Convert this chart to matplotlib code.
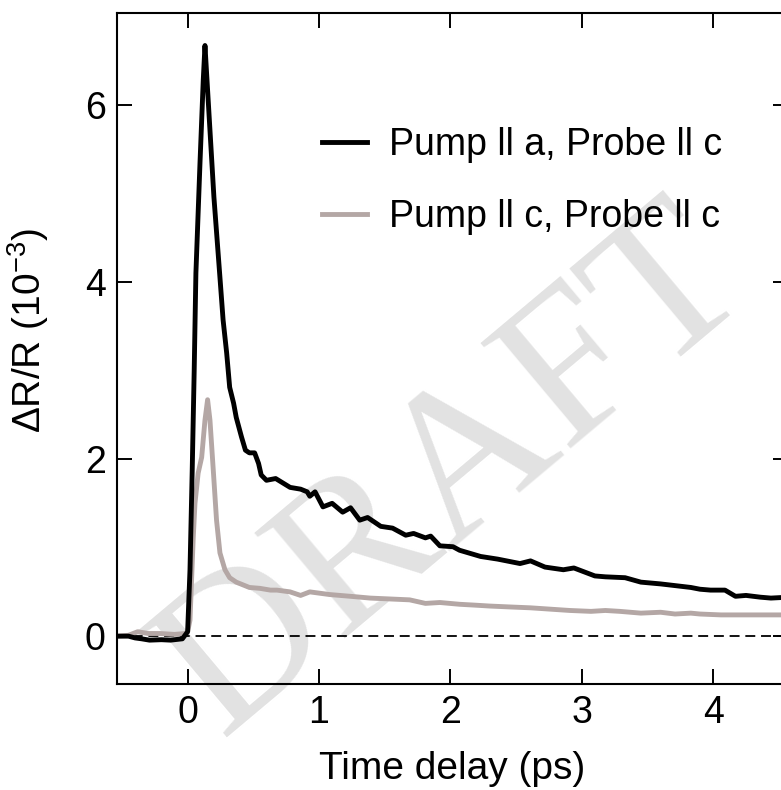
import matplotlib
matplotlib.use("Agg")
import matplotlib.pyplot as plt

# ---- data ----
x_a = [-0.54, -0.45, -0.40, -0.35, -0.29, -0.20, -0.13, -0.04, 0.00, 0.018, 0.035, 0.05,
       0.063, 0.094, 0.119, 0.132, 0.155, 0.20, 0.246, 0.27, 0.297, 0.32, 0.35, 0.37,
       0.41, 0.44, 0.47, 0.51, 0.54, 0.56, 0.60, 0.67, 0.78, 0.86, 0.91, 0.93, 0.97,
       1.03, 1.10, 1.18, 1.24, 1.31, 1.37, 1.47, 1.56, 1.66, 1.72, 1.81, 1.85, 1.92,
       2.02, 2.07, 2.23, 2.36, 2.53, 2.61, 2.72, 2.86, 2.94, 3.10, 3.18, 3.33, 3.45,
       3.60, 3.83, 3.90, 3.98, 4.09, 4.17, 4.25, 4.36, 4.44, 4.57]
y_a = [0.00, 0.00, -0.02, -0.03, -0.045, -0.04, -0.045, -0.03, 0.05, 0.75, 1.88, 3.0,
       4.10, 5.34, 6.28, 6.67, 6.09, 4.96, 4.05, 3.57, 3.20, 2.81, 2.63, 2.47,
       2.25, 2.10, 2.07, 2.07, 1.95, 1.82, 1.76, 1.78, 1.68, 1.66, 1.63, 1.58, 1.63,
       1.46, 1.50, 1.40, 1.45, 1.31, 1.34, 1.24, 1.22, 1.14, 1.16, 1.11, 1.13, 1.02,
       1.01, 0.97, 0.90, 0.87, 0.82, 0.85, 0.78, 0.75, 0.77, 0.68, 0.67, 0.66, 0.61,
       0.59, 0.55, 0.53, 0.52, 0.52, 0.45, 0.46, 0.44, 0.43, 0.44]

x_c = [-0.54, -0.45, -0.38, -0.30, -0.21, -0.10, -0.02, 0.00, 0.018, 0.043, 0.056, 0.08,
       0.107, 0.132, 0.152, 0.17, 0.195, 0.22, 0.246, 0.284, 0.32, 0.37, 0.47, 0.55,
       0.63, 0.68, 0.78, 0.86, 0.93, 1.08, 1.24, 1.39, 1.54, 1.69, 1.81, 1.92, 2.07,
       2.19, 2.30, 2.45, 2.61, 2.76, 2.91, 3.07, 3.18, 3.29, 3.45, 3.60, 3.71, 3.83,
       3.90, 4.06, 4.21, 4.36, 4.57]
y_c = [0.00, 0.01, 0.05, 0.03, 0.03, 0.02, 0.03, 0.05, 0.18, 1.12, 1.50, 1.84,
       2.02, 2.44, 2.67, 2.44, 1.88, 1.31, 0.94, 0.75, 0.66, 0.61, 0.55, 0.54,
       0.52, 0.52, 0.50, 0.46, 0.50, 0.47, 0.45, 0.43, 0.42, 0.41, 0.37, 0.38, 0.36,
       0.35, 0.34, 0.33, 0.32, 0.305, 0.29, 0.28, 0.29, 0.28, 0.26, 0.27, 0.25, 0.26,
       0.25, 0.24, 0.24, 0.24, 0.24]

label_a = "Pump ll a, Probe ll c"
label_c = "Pump ll c, Probe ll c"
x_ticks = [0, 1, 2, 3, 4]
y_ticks = [0, 2, 4, 6]

plt.rcParams['font.family'] = ['Liberation Sans', 'DejaVu Sans']
plt.rcParams['mathtext.fontset'] = 'custom'
plt.rcParams['mathtext.rm'] = 'Liberation Sans'

fig = plt.figure(figsize=(7.81, 7.90), dpi=100)
ax = fig.add_axes([0.1494, 0.1342, 0.8596, 0.8497])
ax.patch.set_alpha(0)

wm = ax.text(0.625, 0.35, "DRAFT", transform=fig.transFigure, fontsize=153,
             family=['Liberation Serif'], color='#e2e2e2', rotation=40,
             rotation_mode='anchor', ha='center', va='baseline',
             zorder=0, clip_on=False)

ax.axhline(0, color='black', lw=1.3, ls=(0, (5.5, 3.2)), zorder=1)
ax.plot(x_a, y_a, color='black', lw=3.5, label=label_a, zorder=3)
ax.plot(x_c, y_c, color='#b4a7a5', lw=3.5, label=label_c, zorder=2)

ax.set_xlim(-0.54, 4.57)
ax.set_ylim(-0.54, 7.04)
ax.set_xticks(x_ticks)
ax.set_yticks(y_ticks)
ax.tick_params(direction='in', length=11, width=1.4, labelsize=27,
               top=True, right=True, pad=8)
for s in ax.spines.values():
    s.set_linewidth(1.5)

ax.set_xlabel("Time delay (ps)", fontsize=28, labelpad=14)
ax.set_ylabel(r"ΔR/R (10$^{\mathregular{-3}}$)", fontsize=28)
ax.yaxis.set_label_coords(-0.098, 0.527)

leg = ax.legend(loc='upper left', bbox_to_anchor=(0.255, 0.88), frameon=False,
                fontsize=27, handlelength=1.2, handletextpad=0.6, labelspacing=0.95)
for h in leg.get_lines():
    h.set_linewidth(3.5)

fig.savefig("out.png", dpi=100)
